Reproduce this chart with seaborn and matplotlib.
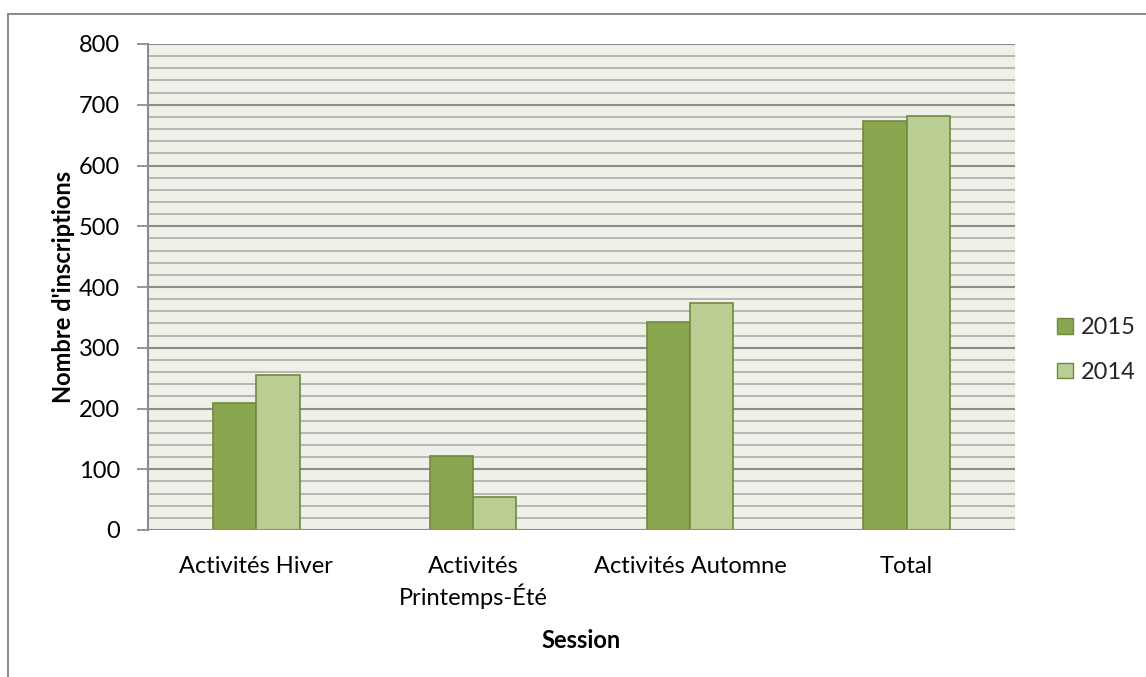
import matplotlib
matplotlib.use("Agg")
import matplotlib.pyplot as plt
from matplotlib.lines import Line2D
from matplotlib.patches import Patch
import numpy as np
import pandas as pd
import seaborn as sns

# ── Data ───────────────────────────────────────────────────────────────────────
sessions = ["Activités Hiver", "Activités\nPrintemps-Été", "Activités Automne", "Total"]
years = ["2015", "2014"]
values_2015 = [209, 122, 342, 674]
values_2014 = [255, 54, 373, 682]

df = pd.DataFrame({
    "Session": sessions * 2,
    "Année": [years[0]] * 4 + [years[1]] * 4,
    "Inscriptions": values_2015 + values_2014,
})

colors = {"2015": "#8AA64E", "2014": "#BACE94"}
edge = "#71893F"

sns.set_theme(style="white")
plt.rcParams["font.family"] = ["Lato", "DejaVu Sans"]

fig = plt.figure(figsize=(11.46, 6.77), dpi=100)
ax = fig.add_axes([148 / 1146, 1 - 530 / 677, (1015 - 148) / 1146, (530 - 44) / 677])
ax.set_facecolor("#EFF1E8")

sns.barplot(data=df, x="Session", y="Inscriptions", hue="Année", hue_order=years,
            palette=colors, saturation=1, width=0.4, edgecolor=edge, linewidth=1.2,
            legend=False, ax=ax, zorder=3)

# gridlines: minor every 20, major every 100
ax.set_ylim(0, 800)
ax.set_yticks(np.arange(0, 801, 100))
ax.set_yticks(np.arange(0, 801, 20), minor=True)
ax.grid(axis="y", which="minor", color="#B0B0B0", linewidth=1.3, zorder=0)
ax.grid(axis="y", which="major", color="#8C8C8C", linewidth=1.5, zorder=0)
ax.set_axisbelow(True)

for s in ["top", "right", "bottom"]:
    ax.spines[s].set_visible(False)
ax.spines["left"].set_color("#8C8C8C")
ax.spines["left"].set_linewidth(1.5)
ax.axhline(0, color="#8C8C8C", linewidth=1.5, zorder=4)

ax.tick_params(axis="y", which="major", left=True, length=8, width=1.3, color="#8C8C8C",
               labelsize=17, pad=12, labelcolor="black")
ax.tick_params(axis="y", which="minor", left=False)
ax.tick_params(axis="x", bottom=False, labelsize=17, pad=13, labelcolor="black")
for lbl in ax.get_xticklabels():
    lbl.set_linespacing(1.3)
ax.set_xlim(-0.5, 3.5)

ax.set_ylabel("Nombre d'inscriptions", fontsize=17, fontweight="bold", labelpad=3, color="black")
ax.set_xlabel("Session", fontsize=17, fontweight="bold", labelpad=14, color="black")

handles = [Patch(facecolor=colors[y], edgecolor=edge, label=y) for y in years]
fig.legend(handles=handles, loc="center left", bbox_to_anchor=(1036 / 1146, 1 - 350 / 677),
           frameon=False, fontsize=17, handlelength=0.65, handleheight=0.65,
           handletextpad=0.35, labelspacing=1.0)

# outer chart border (left and top only visible)
fig.add_artist(Line2D([8 / 1146, 8 / 1146], [0, 1 - 14 / 677], color="#8C8C8C", linewidth=1.5))
fig.add_artist(Line2D([8 / 1146, 1], [1 - 14 / 677, 1 - 14 / 677], color="#8C8C8C", linewidth=1.5))

fig.savefig("out.png", dpi=100)
